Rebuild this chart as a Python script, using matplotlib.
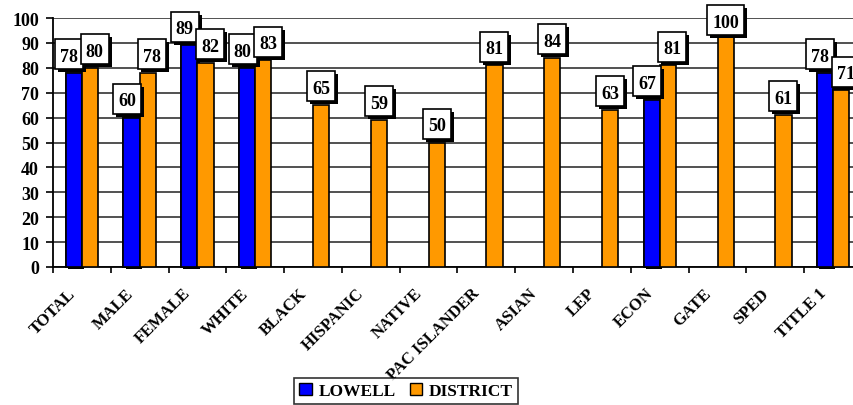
import numpy as np
import matplotlib
matplotlib.use('Agg')
import matplotlib.pyplot as plt
import matplotlib.patheffects as pe
from matplotlib.patches import Rectangle
from matplotlib.transforms import ScaledTranslation

plt.rcParams['font.family'] = ['Liberation Serif', 'DejaVu Serif']
plt.rcParams['font.weight'] = 'bold'

# data
categories = ['TOTAL', 'MALE', 'FEMALE', 'WHITE', 'BLACK', 'HISPANIC', 'NATIVE',
              'PAC ISLANDER', 'ASIAN', 'LEP', 'ECON', 'GATE', 'SPED', 'TITLE 1']
lowell = [78, 60, 89, 80, np.nan, np.nan, np.nan, np.nan, np.nan, np.nan, 67, np.nan, np.nan, 78]
district = [80, 78, 82, 83, 65, 59, 50, 81, 84, 63, 81, 100, 61, 71]

blue = '#0000FF'
orange = '#FF9900'
DPI = 100

fig = plt.figure(figsize=(8.54, 4.06), dpi=DPI)
ax = fig.add_axes([53/854, 1-268/406, (862-53)/854, (268-19)/406])

x = np.arange(len(categories))
w = 0.28
bl = ax.bar(x - w/2, lowell, w, color=blue, edgecolor='black', linewidth=1.2, zorder=3)
for b in bl:
    b.set_clip_on(False)
    b.set_path_effects([pe.withSimplePatchShadow(offset=(1.5, -1.5), shadow_rgbFace='black', alpha=1.0),
                        pe.Normal()])
ax.bar(x + w/2, district, w, color=orange, edgecolor='black', linewidth=1.2, zorder=3)

ax.set_xlim(-0.5, len(categories) - 0.5)
ax.set_ylim(0, 100)
ax.set_yticks(range(0, 101, 10))
ax.yaxis.grid(True, color='#222222', linewidth=1.1, zorder=0)
ax.set_axisbelow(True)
for s in ['top', 'right']:
    ax.spines[s].set_visible(False)
ax.spines['left'].set_linewidth(1.3)
ax.spines['bottom'].set_linewidth(1.3)
ax.tick_params(axis='y', length=5, width=1.2, labelsize=13, pad=5)

# tick marks between categories, labels at centres
ax.set_xticks(np.arange(-0.5, len(categories), 1), minor=True)
ax.set_xticks(x)
ax.set_xticklabels(categories, rotation=45, ha='right', va='center',
                   rotation_mode='anchor', fontsize=12, fontweight='bold')
ax.tick_params(axis='x', which='major', length=0, pad=17)
ax.tick_params(axis='x', which='minor', length=4, width=1.2, direction='out')
for lab in ax.get_xticklabels():
    lab.set_transform(lab.get_transform() + ScaledTranslation(-9/DPI, 0, fig.dpi_scale_trans))
for lab in ax.get_yticklabels():
    lab.set_fontweight('bold')


def value_box(xd, yd, txt):
    bw = (10 + 9 * len(txt)) / DPI
    bh = 30 / DPI
    tr = fig.dpi_scale_trans + ScaledTranslation(xd, yd, ax.transData)
    ax.add_patch(Rectangle((-bw/2 + 3/DPI, -bh/2 - 3/DPI), bw, bh, transform=tr,
                           fc='black', ec='none', zorder=5, clip_on=False))
    ax.add_patch(Rectangle((-bw/2, -bh/2), bw, bh, transform=tr,
                           fc='white', ec='black', lw=1.2, zorder=5, clip_on=False))
    ax.text(xd, yd, txt, ha='center', va='center_baseline', fontsize=13,
            fontweight='bold', zorder=6, clip_on=False)


for i in range(len(categories)):
    pair = not np.isnan(lowell[i])
    if pair:
        value_box(i - 0.22, min(lowell[i] + 7.5, 99), f'{lowell[i]:.0f}')
        value_box(i + 0.22, min(district[i] + 7.5, 99), f'{district[i]:.0f}')
    else:
        value_box(i + w/2, min(district[i] + 7.5, 99), f'{district[i]:.0f}')

handles = [Rectangle((0, 0), 1, 1, fc=blue, ec='black', lw=1),
           Rectangle((0, 0), 1, 1, fc=orange, ec='black', lw=1)]
leg = fig.legend(handles, ['LOWELL', 'DISTRICT'], loc='center', ncol=2,
                 bbox_to_anchor=(406/854, 1-392/406), frameon=True, fancybox=False,
                 edgecolor='black', fontsize=12.5, handlelength=0.7, handleheight=0.7,
                 handletextpad=0.4, columnspacing=0.8, borderpad=0.3, borderaxespad=0)
leg.get_frame().set_linewidth(1.2)
for t in leg.get_texts():
    t.set_fontweight('bold')

fig.savefig('out.png', dpi=DPI)
